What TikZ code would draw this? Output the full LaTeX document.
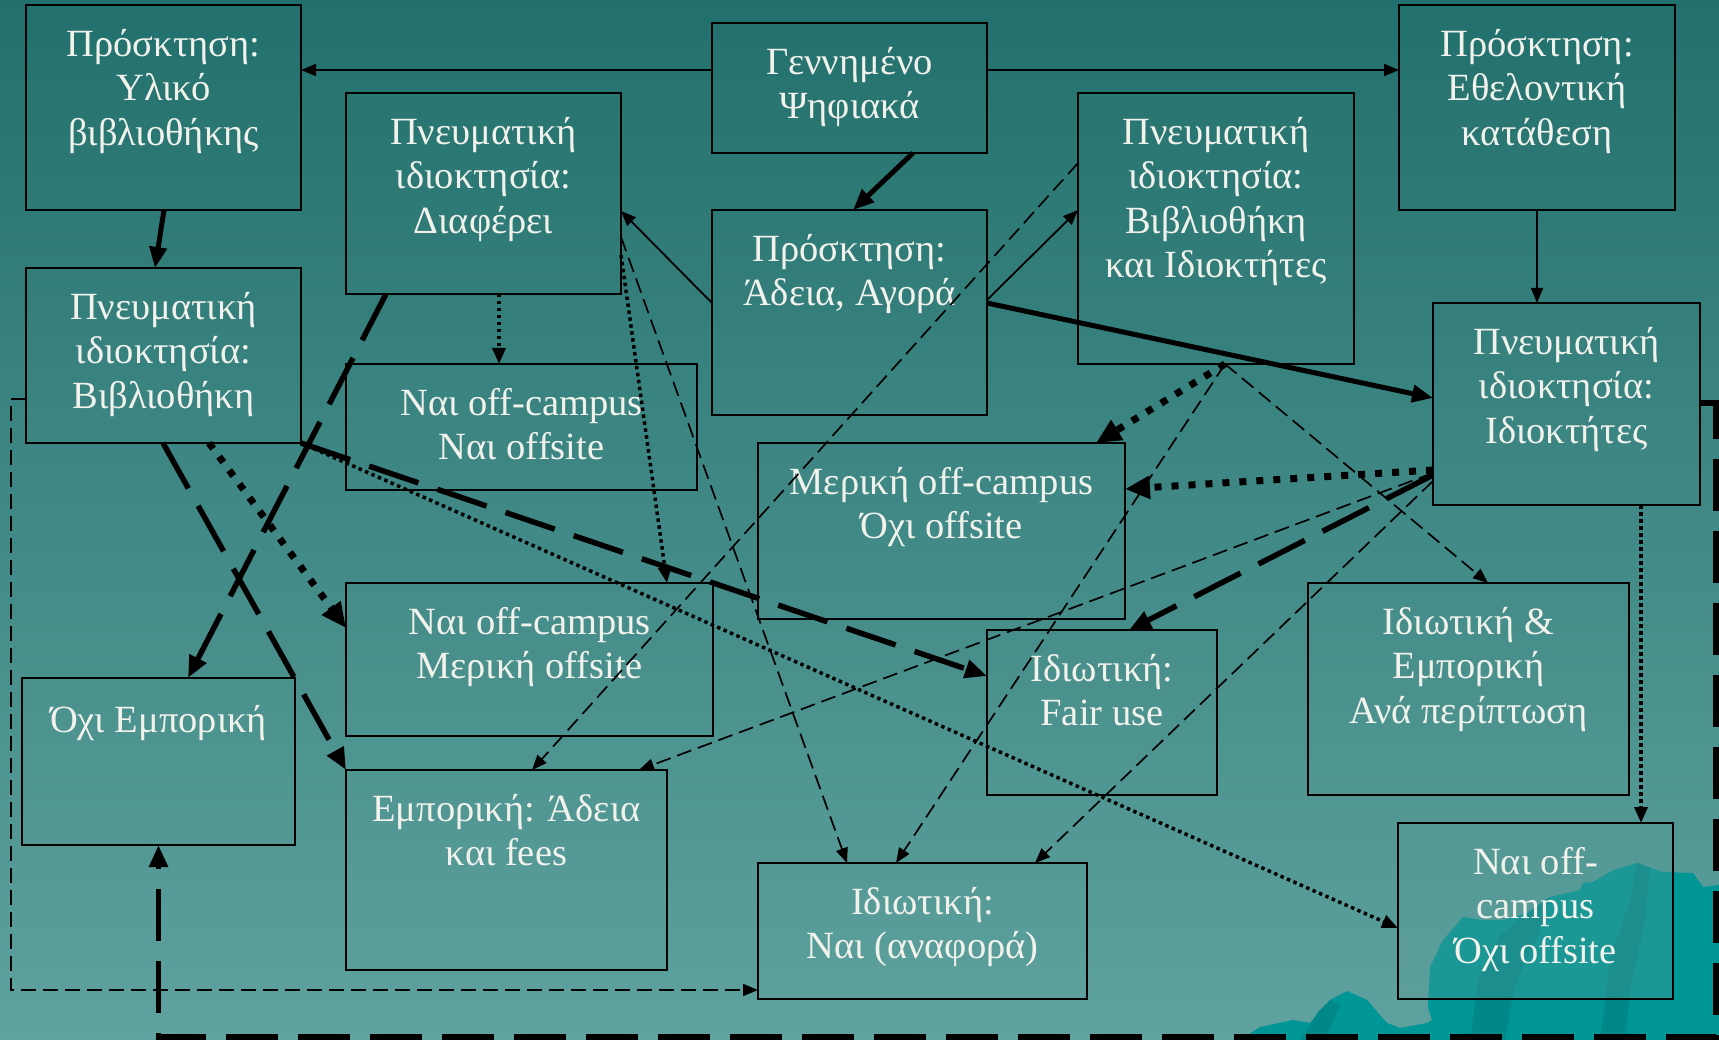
\documentclass[tikz,border=0pt]{standalone}
\usepackage{fontspec}
\setmainfont{Liberation Serif}
\usetikzlibrary{arrows.meta,calc}
\definecolor{bgtop}{HTML}{22706D}
\definecolor{bgbot}{HTML}{5FA29F}
\definecolor{txtc}{HTML}{F2F2EC}
\definecolor{deco}{HTML}{009696}
\definecolor{decod}{HTML}{008888}
\definecolor{boxfill}{HTML}{5A9C99}
\newcommand{\mybox}[7][]{%
  \node[box,#1, minimum width={#5-#3}, minimum height={#6-#4}] (#2) at (#3,#4) {};
  \node[txt] (#2T) at ({(#3+#5)/2},{#4+24}) {#7};}
\begin{document}
\begin{tikzpicture}[x=1pt,y=-1pt,
  box/.style={draw=black, line width=1.8pt, inner sep=0pt, outer sep=0pt, anchor=north west},
  txt/.style={text=txtc, font=\fontsize{38.5}{44.5}\selectfont, align=center, inner sep=0pt, anchor=north, execute at begin node={\rule{0pt}{30pt}}},
  solidthin/.style={line width=1.8pt, -{Triangle[length=15pt,width=12pt]}},
  solidthick/.style={line width=5pt, -{Triangle[length=21pt,width=17pt]}},
  dashthin/.style={line width=1.7pt, dash pattern=on 15pt off 7pt, -{Triangle[length=15pt,width=12pt]}},
  dashthick/.style={line width=5.5pt, dash pattern=on 52pt off 20pt, -{Triangle[length=22pt,width=18pt]}},
  dotthick/.style={line width=7pt, dash pattern=on 7pt off 10pt, -{Triangle[length=25pt,width=22pt]}},
  dotmed/.style={line width=3.5pt, dash pattern=on 3.5pt off 3.5pt, -{Triangle[length=16pt,width=13pt]}}]
\useasboundingbox (0,0) rectangle (1719,1040);
\fill[top color=bgtop, bottom color=bgbot] (0,0) rectangle (1719,1040);
% decoration bottom right
\fill[deco] (1240,1040) -- (1260,1027) -- (1293,1020) -- (1310,1023) -- (1330,1000) -- (1347,991) -- (1367,1000) -- (1387,1023) -- (1400,1028) -- (1427,1023) -- (1432,1020) -- (1428,1007) -- (1430,967) -- (1443,940) -- (1463,917) -- (1483,920) -- (1503,920) -- (1527,913) -- (1550,897) -- (1580,890) -- (1583,883) -- (1593,882) -- (1613,870) -- (1637,863) -- (1663,872) -- (1693,873) -- (1703,887) -- (1719,885) -- (1719,1040) -- cycle;
\fill[decod] (1470,1040) -- (1478,980) -- (1500,935) -- (1527,913) -- (1550,897) -- (1540,930) -- (1515,985) -- (1505,1040) -- cycle;
\fill[decod] (1600,1040) -- (1610,960) -- (1630,900) -- (1637,863) -- (1650,868) -- (1645,920) -- (1630,990) -- (1625,1040) -- cycle;
\fill[decod] (1300,1040) -- (1318,1012) -- (1330,1000) -- (1340,1005) -- (1325,1040) -- cycle;
% boxes
\mybox{yli}{26}{5}{301}{210}{Πρόσκτηση:\\Υλικό\\βιβλιοθήκης}
\mybox{gen}{712}{23}{987}{153}{Γεννημένο\\Ψηφιακά}
\mybox{eth}{1399}{5}{1675}{210}{Πρόσκτηση:\\Εθελοντική\\κατάθεση}
\mybox{dia}{346}{93}{621}{294}{Πνευματική\\ιδιοκτησία:\\Διαφέρει}
\mybox{ade}{712}{210}{987}{415}{Πρόσκτηση:\\Άδεια, Αγορά}
\mybox{bki}{1078}{93}{1354}{364}{Πνευματική\\ιδιοκτησία:\\Βιβλιοθήκη\\και Ιδιοκτήτες}
\mybox{bib}{26}{268}{301}{443}{Πνευματική\\ιδιοκτησία:\\Βιβλιοθήκη}
\mybox{idi}{1433}{303}{1700}{505}{Πνευματική\\ιδιοκτησία:\\Ιδιοκτήτες}
\mybox{nn}{346}{364}{697}{490}{Ναι off-campus\\Ναι offsite}
\mybox{mer}{758}{443}{1125}{619}{Μερική off-campus\\Όχι offsite}
\mybox{nm}{346}{583}{713}{736}{Ναι off-campus\\Μερική offsite}
\mybox{oxi}{22}{678}{295}{845}{Όχι Εμπορική}
\mybox{emp}{346}{770}{667}{970}{Εμπορική: Άδεια\\και fees}
\mybox{fair}{987}{630}{1217}{795}{Ιδιωτική:\\Fair use}
\mybox{iem}{1308}{583}{1629}{795}{Ιδιωτική \&\\Εμπορική\\Ανά περίπτωση}
\mybox{inai}{758}{863}{1087}{999}{Ιδιωτική:\\Ναι (αναφορά)}
\mybox[fill=boxfill, fill opacity=0.3, text opacity=1]{nox}{1398}{823}{1673}{999}{Ναι off-\\campus\\Όχι offsite}
\coordinate (bot) at (0,1037);
% connectors
\draw[solidthin] ($(gen.north west)+(0,47)$) -- ($(yli.north east)+(0,65)$);
\draw[solidthin] ($(gen.north east)+(0,47)$) -- ($(eth.north west)+(0,65)$);
\draw[solidthick] ($(gen.north west)+(201,130)$) -- ($(ade.north west)+(141,0)$);
\draw[solidthick] ($(yli.north west)+(138,205)$) -- ($(bib.north west)+(129,0)$);
\draw[solidthin] ($(eth.north west)+(138,205)$) -- ($(idi.north west)+(104,0)$);
\draw[solidthin] ($(ade.north west)+(0,93)$) -- ($(dia.north east)+(0,118)$);
\draw[solidthin] ($(ade.north east)+(0,90)$) -- ($(bki.north west)+(0,117)$);
\draw[solidthick] ($(ade.north east)+(0,93)$) -- ($(idi.north west)+(0,95)$);
\draw[dotmed] ($(dia.north west)+(153,201)$) -- ($(nn.north west)+(153,0)$);
\draw[dashthick] ($(dia.north west)+(40,201)$) -- ($(oxi.north west)+(166,0)$);
\draw[dotmed] ($(dia.north east)+(0,162)$) -- ($(nm.north west)+(321,0)$);
\draw[dashthin] ($(dia.north east)+(0,144)$) -- ($(inai.north west)+(89,0)$);
\draw[dotthick] ($(bib.north west)+(183,175)$) -- ($(nm.north west)+(0,45)$);
\draw[dashthick] ($(bib.north west)+(137,175)$) -- (emp.north west);
\draw[dashthick] (bib.south east) -- ($(fair.north west)+(0,46)$);
\draw[dotmed] (bib.south east) -- ($(nox.north west)+(0,105)$);
\draw[dotthick] ($(bki.north west)+(147,271)$) -- ($(mer.north west)+(338,0)$);
\draw[dashthin] ($(bki.north west)+(147,271)$) -- ($(inai.north west)+(138,0)$);
\draw[dashthin] ($(bki.north west)+(147,271)$) -- ($(iem.north west)+(180,0)$);
\draw[dashthin] ($(bki.north west)+(0,70)$) -- ($(emp.north west)+(186,0)$);
\draw[dotthick] ($(idi.north west)+(0,167)$) -- ($(mer.north east)+(0,46)$);
\draw[dashthick] ($(idi.north west)+(0,172)$) -- ($(fair.north west)+(142,0)$);
\draw[dashthin] ($(idi.north west)+(0,170)$) -- ($(emp.north west)+(293,0)$);
\draw[dashthin] ($(idi.north west)+(0,178)$) -- ($(inai.north west)+(277,0)$);
\draw[dotmed] ($(idi.north west)+(208,202)$) -- ($(nox.north west)+(243,0)$);
\draw[dashthick] ($(idi.north east)+(0,100)$) -- ++(16,0) |- (oxi.south |- bot) -- (oxi.south);
\draw[dashthin] ($(bib.north west)+(0,131)$) -- ++(-15,0) |- ($(inai.north west)+(0,127)$);
\end{tikzpicture}
\end{document}
